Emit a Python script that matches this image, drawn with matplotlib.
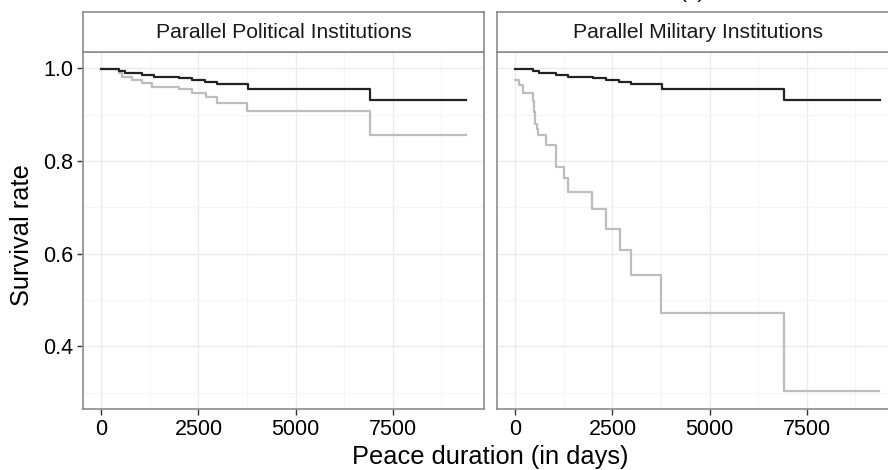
import numpy as np
import matplotlib
matplotlib.use("Agg")
import matplotlib.pyplot as plt

plt.rcParams['font.family'] = ['Liberation Sans', 'DejaVu Sans']

# Kaplan-Meier style step data (time in days, survival rate)
black_t = [0, 450, 620, 1050, 1350, 1990, 2330, 2670, 2970, 3770, 6920, 9375]
black_s = [0.998, 0.993, 0.989, 0.986, 0.982, 0.979, 0.975, 0.971, 0.966, 0.956, 0.931, 0.931]

pol_grey_t = [0, 450, 540, 790, 1050, 1306, 1990, 2330, 2700, 2970, 3750, 6920, 9375]
pol_grey_s = [0.998, 0.989, 0.982, 0.975, 0.968, 0.959, 0.955, 0.946, 0.937, 0.926, 0.907, 0.857, 0.857]

mil_grey_t = [0, 100, 190, 461, 490, 520, 550, 590, 786, 1043, 1255, 1358, 1975, 2330, 2690, 2990, 3760, 6920, 9360]
mil_grey_s = [0.974, 0.964, 0.946, 0.930, 0.905, 0.880, 0.868, 0.855, 0.834, 0.788, 0.764, 0.732, 0.697, 0.654, 0.607, 0.554, 0.472, 0.303, 0.303]

panels = ["Parallel Political Institutions", "Parallel Military Institutions"]
grey_series = [(pol_grey_t, pol_grey_s), (mil_grey_t, mil_grey_s)]

W, H = 888, 470
fig = plt.figure(figsize=(W / 100, H / 100), dpi=100)

border = "#8c8c8c"
lefts = [83, 497]
pw = 401
top, bottom = 52, 409

for i, name in enumerate(panels):
    ax = fig.add_axes([lefts[i] / W, (H - bottom) / H, pw / W, (bottom - top) / H])
    ax.step(black_t, black_s, where="post", color="#222222", lw=1.6, zorder=3)
    gt, gs = grey_series[i]
    ax.step(gt, gs, where="post", color="#bdbdbd", lw=1.6, zorder=2)

    ax.set_xlim(-469, 9844)
    ax.set_ylim(0.265, 1.035)
    ax.set_xticks([0, 2500, 5000, 7500])
    ax.set_xticks([1250, 3750, 6250, 8750], minor=True)
    ax.set_yticks([0.4, 0.6, 0.8, 1.0])
    ax.set_yticks([0.3, 0.5, 0.7, 0.9], minor=True)
    ax.grid(which="major", color="#ebebeb", lw=1.0)
    ax.grid(which="minor", color="#f5f5f5", lw=0.8)
    ax.set_axisbelow(True)
    for sp in ax.spines.values():
        sp.set_color(border)
        sp.set_linewidth(1.2)
    ax.tick_params(which="major", length=4.5, width=1, color="#333333",
                   labelsize=15.5, labelcolor="black", pad=2.5)
    ax.tick_params(which="minor", length=0)
    ax.set_xticklabels(["0", "2500", "5000", "7500"])
    if i == 0:
        ax.set_yticklabels(["0.4", "0.6", "0.8", "1.0"])
    else:
        ax.tick_params(axis="y", which="both", left=False, labelleft=False)

    # facet strip
    st = fig.add_axes([lefts[i] / W, (H - top) / H, pw / W, 40 / H])
    st.set_xticks([])
    st.set_yticks([])
    st.set_facecolor("white")
    for sp in st.spines.values():
        sp.set_color(border)
        sp.set_linewidth(1.2)
    st.text(0.5, 0.5, name, ha="center", va="center", fontsize=15.2,
            color="#1a1a1a", transform=st.transAxes)

fig.text(490.5 / W, (H - 457) / H, "Peace duration (in days)", ha="center",
         va="center", fontsize=18.3)
fig.text(22 / W, (H - 235) / H, "Survival rate", ha="center", va="center",
         rotation=90, fontsize=18.3)
# title cut off at the top of the original image
fig.text(692 / W, 1.0 + 2.5 / H, "(b)", ha="center", va="baseline", fontsize=15)

fig.savefig("out.png", dpi=100)
